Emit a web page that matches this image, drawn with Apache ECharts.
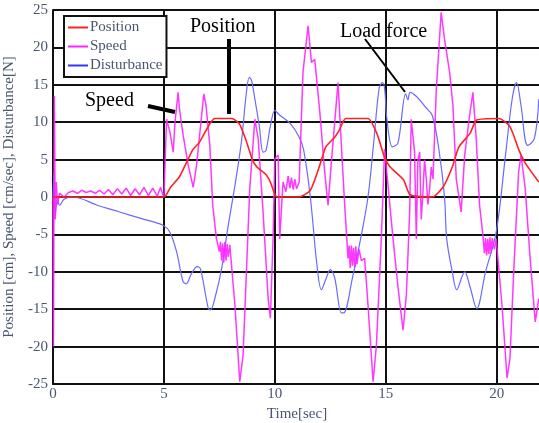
<!DOCTYPE html>
<html>
<head>
<meta charset="utf-8">
<script src="https://cdn.jsdelivr.net/npm/echarts@6/dist/echarts.min.js"></script>
<style>
html,body{margin:0;padding:0;background:#fff;}
#chart{width:539px;height:423px;}
</style>
</head>
<body>
<div id="chart"></div>
<script>
// ---- data ----
var seriesNames = ['Position', 'Speed', 'Disturbance'];
var xTicks = [0, 5, 10, 15, 20];
var yTicks = [-25, -20, -15, -10, -5, 0, 5, 10, 15, 20, 25];

var posTime = [0, 5.0, 5.3, 5.7, 6.0, 6.3, 6.6, 7.07, 7.3, 8.06, 8.4, 8.7, 9.0, 9.2, 9.6, 9.8, 10.1, 11.1, 11.6, 12.0, 12.3, 12.7, 12.9, 13.2, 14.2, 14.6, 14.95, 15.2, 15.8, 16.1, 17.1, 17.6, 18.0, 18.3, 18.8, 19.1, 20.1, 20.6, 21.0, 21.3, 21.9];
var posValue = [0, 0, 1.3, 2.7, 4.5, 6.3, 7.3, 9.8, 10.5, 10.5, 9.8, 7.6, 4.9, 4.0, 3.0, 2.0, 0, 0, 0.9, 4.0, 6.7, 8.0, 8.9, 10.5, 10.5, 8.5, 5.3, 4.0, 2.3, 0.3, 0, 1.4, 4.0, 6.7, 8.5, 10.3, 10.5, 9.4, 6.3, 4.5, 2.0];

var speedTime = [0, 0.02, 0.06, 0.1, 0.15, 0.2, 0.3, 0.5, 0.7, 0.9, 1.1, 1.3, 1.5, 1.7, 1.9, 2.1, 2.3, 2.5, 2.7, 2.9, 3.1, 3.3, 3.5, 3.7, 3.9, 4.1, 4.3, 4.5, 4.7, 4.85, 4.95,
  5.0, 5.12, 5.27, 5.42, 5.5, 5.64, 5.7, 5.87, 6.1, 6.32, 6.47, 6.7, 6.8, 6.9, 7.07, 7.2, 7.37, 7.5, 7.55, 7.6, 7.65, 7.7, 7.75, 7.8, 7.85, 7.9, 7.97, 8.2, 8.42, 8.57, 8.72, 8.87, 9.1, 9.25, 9.47, 9.7, 9.8, 9.92,
  10.0, 10.15, 10.22, 10.37, 10.5, 10.6, 10.68, 10.75, 10.83, 10.9, 10.98, 11.1, 11.27, 11.5, 11.65, 11.8, 12.03, 12.25, 12.4, 12.55, 12.85, 13.0, 13.15, 13.3, 13.35, 13.4, 13.45, 13.5, 13.55, 13.6, 13.65, 13.7, 13.8, 13.9, 14.05, 14.2, 14.43, 14.58, 14.8, 14.95,
  15.33, 15.56, 15.78, 15.93, 16.08, 16.15, 16.3, 16.38, 16.45, 16.53, 16.6, 16.68, 16.75, 16.83, 16.9, 16.98, 17.05, 17.13, 17.28, 17.5, 17.65, 17.88, 18.03, 18.18, 18.4, 18.56, 18.78, 18.93, 19.08, 19.23, 19.38, 19.45, 19.5, 19.55, 19.6, 19.65, 19.7, 19.75, 19.8, 19.9, 19.98,
  20.24, 20.47, 20.6, 20.77, 20.99, 21.1, 21.29, 21.5, 21.74, 21.9];
var speedValue = [0, -20, 13.5, -3, 2, -1, 0.5, 0, 0.6, 0.8, 0.5, 0.9, 0.6, 0.8, 0.5, 0.9, 0.4, 1.0, 0.3, 1.1, 0.4, 1.2, 0.2, 1.1, 0.3, 1.3, 0.2, 1.2, 0.1, 1.3, 0.3,
  0, 10.4, 8.7, 6, 10, 14, 11.8, 8.2, 4.2, 1.3, 4.2, 10.9, 13.8, 12.2, 6.9, -1.1, -5.6, -7.3, -6, -8.5, -6.2, -8.8, -6.0, -8.5, -6.3, -8.0, -6.4, -14.4, -24.7, -21.1, -10, 1.1, 10.4, 7.8, -2, -13.6, -16.2, -5.6,
  5.1, 5.6, -5.6, 2, 0.7, 2.8, 1.2, 2.6, 1.0, 2.4, 1.1, 2, 16.7, 22.9, 18, 18.4, 11.3, 3.3, -1.1, 4.7, 15.3, 6.9, -1.1, -8.2, -6.5, -9.5, -6.5, -9.2, -6.8, -9.4, -6.6, -9.0, -7.0, -8.5, -8.2, -14.4, -24.7, -19.8, -5.6, 6.4,
  -5.6, -12.2, -17.8, -13.1, -2, 10.4, 6, -5.6, 5, 6, -3, 0.7, 5, 2.4, -1, 1.1, 4, 2.4, 14.4, 24.7, 21.1, 16.7, 12.2, 2.4, -2, 5.6, 10.9, 14, 7.8, -1.1, -5.1, -7.5, -5.5, -7.8, -5.6, -7.6, -5.4, -7.5, -5.5, -7, -5.6,
  -14.4, -24.2, -21.6, -10, 3.3, 5.6, 1.1, -7.8, -16.7, -13.6];

var distTime = [0, 0.05, 0.1, 0.2, 0.3, 0.5, 0.9, 2.0, 3.0, 4.0, 4.97, 5.27, 5.57, 5.86, 6.0, 6.25, 6.5, 6.65, 7.0, 7.1, 7.3, 7.6, 7.9, 8.2, 8.5, 8.7, 8.85, 8.95, 9.1, 9.3, 9.47, 9.6, 9.8, 10.0, 10.1, 10.2, 10.7, 11.1, 11.3, 11.6, 11.9, 12.1, 12.3, 12.5, 12.7, 13.0, 13.1, 13.5, 13.9, 14.2, 14.45, 14.7, 14.85, 14.95, 15.05, 15.3, 15.55, 15.9, 16.0, 16.1, 16.4, 16.8, 17.1, 17.4, 17.65, 17.75, 18.0, 18.2, 18.56, 18.8, 19.1, 19.5, 19.98, 20.4, 20.7, 20.9, 21.1, 21.4, 21.7, 21.9];
var distValue = [0, 3.4, -2.5, -0.5, -1.1, -0.3, 0, -1.1, -2.0, -2.9, -3.8, -4.7, -7.3, -11.3, -11.6, -10.2, -9.3, -9.6, -14.9, -15.1, -13.5, -9.6, -3.8, 1.5, 7.5, 13.5, 16.0, 15.6, 13.1, 9.5, 6.0, 6.2, 9.5, 11.6, 11.3, 11.0, 9.8, 8.0, 6.3, 0, -9.1, -12.4, -11.0, -9.7, -10.8, -15.5, -15.5, -10.8, -5.1, 0, 7, 14.5, 15.3, 14.5, 10.5, 6.7, 7.2, 13.8, 13.0, 14.0, 13.4, 12.0, 10.9, 6.3, 0, -5.6, -10, -12.4, -10, -12, -14.9, -10, -4.7, 5.6, 13.1, 15.3, 12.2, 6.9, 7.8, 13.1];

function zip(t, v) { var out = []; for (var i = 0; i < t.length; i++) out.push([t[i], v[i]]); return out; }

var labelColor = '#4a5670';
var serif = '"Liberation Serif", "DejaVu Serif", serif';

var chart = echarts.init(document.getElementById('chart'), null, {renderer: 'canvas'});
chart.setOption({
  animation: false,
  backgroundColor: '#fff',
  grid: {left: 53, top: 10, right: -2, bottom: 39, containLabel: false, outerBoundsMode: 'none'},
  xAxis: {
    type: 'value', min: xTicks[0], max: 22, interval: 5,
    name: 'Time[sec]', nameLocation: 'middle', nameGap: 20,
    nameTextStyle: {fontFamily: serif, fontSize: 15, color: labelColor},
    axisLine: {onZero: false, lineStyle: {color: '#111', width: 2}},
    axisTick: {show: false},
    axisLabel: {fontFamily: serif, fontSize: 15, color: labelColor, margin: 3, showMaxLabel: false,
      formatter: function (v) { return xTicks.indexOf(v) >= 0 ? String(v) : ''; }},
    splitLine: {show: true, lineStyle: {color: '#111', width: 2}}
  },
  yAxis: {
    type: 'value', min: yTicks[0], max: yTicks[yTicks.length - 1], interval: 5,
    name: 'Position [cm], Speed [cm/sec], Disturbance[N]', nameLocation: 'middle', nameGap: 36,
    nameTextStyle: {fontFamily: serif, fontSize: 15, color: labelColor},
    axisLine: {onZero: false, lineStyle: {color: '#111', width: 2}},
    axisTick: {show: false},
    axisLabel: {fontFamily: serif, fontSize: 15, color: labelColor, margin: 5},
    splitLine: {show: true, lineStyle: {color: '#111', width: 2}}
  },
  legend: {
    orient: 'vertical', left: 64, top: 16,
    data: seriesNames,
    icon: 'rect', itemWidth: 20, itemHeight: 2, itemGap: 4,
    padding: [4, 4, 4, 4],
    backgroundColor: '#fff', borderColor: '#111', borderWidth: 2,
    textStyle: {fontFamily: serif, fontSize: 15, color: labelColor, padding: [0, 0, 0, -3], lineHeight: 15}
  },
  series: [
    {name: seriesNames[0], type: 'line', data: zip(posTime, posValue), showSymbol: false, smooth: 0.2, z: 4,
      lineStyle: {color: '#ff2222', width: 1.6}, itemStyle: {color: '#ff2222'}},
    {name: seriesNames[1], type: 'line', data: zip(speedTime, speedValue), showSymbol: false, z: 3,
      lineStyle: {color: '#ff22ff', width: 1.5, opacity: 0.9}, itemStyle: {color: '#ff22ff'}},
    {name: seriesNames[2], type: 'line', data: zip(distTime, distValue), showSymbol: false, smooth: 0.35, z: 2,
      lineStyle: {color: '#6a6aff', width: 1.2}, itemStyle: {color: '#3333ff'}}
  ],
  graphic: [
    {type: 'text', left: 190, top: 17, style: {text: 'Position', font: '20px ' + serif, fill: '#000'}},
    {type: 'line', shape: {x1: 229, y1: 39, x2: 229, y2: 114}, style: {stroke: '#000', lineWidth: 4}},
    {type: 'text', left: 85, top: 91, style: {text: 'Speed', font: '20px ' + serif, fill: '#000'}},
    {type: 'line', shape: {x1: 148, y1: 106, x2: 175, y2: 112}, style: {stroke: '#000', lineWidth: 4}},
    {type: 'text', left: 340, top: 22, style: {text: 'Load force', font: '20px ' + serif, fill: '#000'}},
    {type: 'line', shape: {x1: 365, y1: 39, x2: 405, y2: 92}, style: {stroke: '#000', lineWidth: 2}}
  ]
});
</script>
</body>
</html>
